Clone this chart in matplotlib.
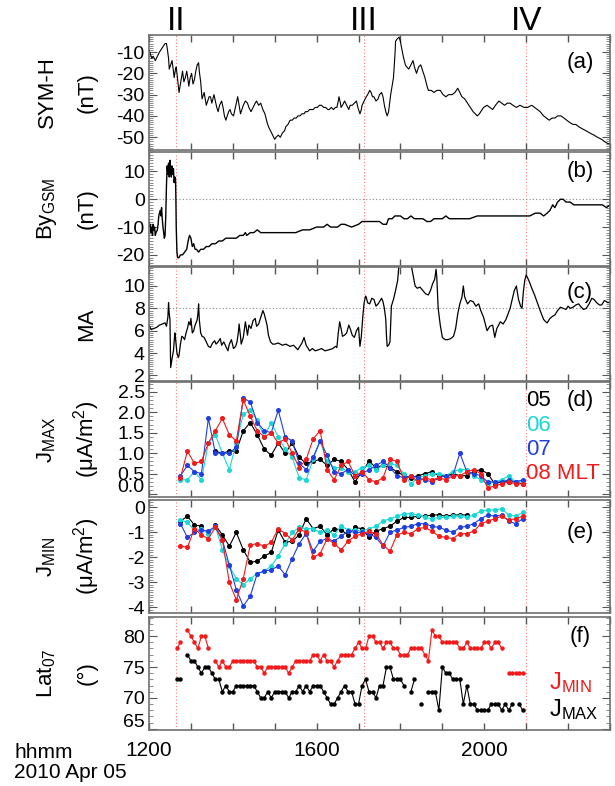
import numpy as np
import matplotlib
matplotlib.use("Agg")
import matplotlib.pyplot as plt
from matplotlib.ticker import MultipleLocator, FixedLocator, FixedFormatter
import matplotlib.transforms as mtransforms

plt.rcParams['font.family'] = ['Liberation Sans', 'DejaVu Sans']
plt.rcParams['mathtext.fontset'] = 'custom'
plt.rcParams['mathtext.rm'] = 'Liberation Sans'
plt.rcParams['mathtext.it'] = 'Liberation Sans'
plt.rcParams['axes.unicode_minus'] = False

nan = np.nan

# ---------------- data (time = minutes after 12:00 UT) ----------------
symh_pts = [(0, -9), (2, -11), (4, -13), (6, -12), (9, -14), (12, -12), (15, -10), (17, -9), (19, -8),
            (21, -7), (23, -6), (25, -6), (26, -8), (28, -13), (29, -18), (31, -16), (33, -14), (35, -19),
            (36, -22), (38, -18), (39, -17), (41, -23), (43, -29), (45, -25), (47, -21), (48, -19),
            (50, -24), (52, -22), (54, -19), (55, -21), (57, -26), (59, -22), (61, -20), (63, -25),
            (65, -23), (67, -19), (69, -16), (71, -15), (72, -19), (74, -24), (76, -32), (78, -30),
            (79, -29), (81, -33), (82, -35), (84, -33), (86, -31), (88, -31), (90, -34), (93, -30),
            (95, -33), (97, -36), (99, -38), (101, -35), (104, -33), (106, -36), (108, -40), (110, -42),
            (112, -40), (114, -38), (116, -37), (118, -39), (121, -40), (123, -37), (125, -34), (127, -31),
            (129, -35), (131, -39), (133, -37), (135, -35), (138, -33), (141, -34), (143, -36), (146, -38),
            (149, -36), (152, -34), (154, -33), (157, -35), (160, -34), (163, -37), (166, -39), (169, -43),
            (171, -45), (174, -47), (177, -49), (180, -51), (182, -50), (185, -49), (188, -50), (191, -48),
            (194, -47), (196, -45), (199, -44), (202, -42), (205, -42), (208, -41), (211, -41), (213, -40),
            (216, -40), (219, -39), (222, -39), (224, -38), (227, -38), (230, -37), (233, -37), (235, -37),
            (238, -36), (241, -36), (244, -35), (247, -35), (250, -36), (253, -36), (256, -37), (258, -37),
            (261, -36), (264, -37), (267, -36), (269, -36), (271, -33), (272, -31), (274, -34), (275, -36),
            (277, -35), (280, -33), (283, -35), (286, -37), (288, -35), (291, -35), (294, -34), (297, -33),
            (299, -36), (302, -39), (304, -37), (305, -35), (308, -33), (311, -31), (313, -30), (316, -28),
            (318, -29), (320, -31), (322, -31), (325, -33), (328, -32), (330, -30), (333, -29), (335, -31),
            (337, -35), (339, -38), (341, -40), (343, -38), (346, -30), (348, -26), (350, -22), (352, -12),
            (353, -5), (355, -4), (358, -3), (360, -5), (361, -7), (364, -12), (367, -16), (369, -17),
            (372, -18), (375, -16), (378, -14), (380, -17), (383, -20), (386, -17), (389, -16), (392, -19),
            (395, -22), (398, -26), (400, -28), (404, -28), (408, -29), (412, -28), (417, -28), (421, -30),
            (425, -31), (429, -30), (434, -30), (438, -29), (442, -27), (445, -29), (448, -31), (452, -32),
            (456, -34), (460, -36), (464, -38), (467, -39), (470, -40), (473, -39), (475, -38), (479, -36),
            (484, -35), (488, -36), (492, -37), (496, -35), (501, -33), (505, -34), (509, -35), (513, -34),
            (517, -34), (521, -35), (526, -36), (531, -35), (537, -36), (542, -36), (548, -35), (552, -36),
            (556, -37), (560, -38), (565, -40), (569, -41), (573, -42), (577, -41), (581, -41), (585, -40),
            (590, -40), (594, -41), (598, -42), (602, -43), (607, -44), (611, -44), (615, -45), (620, -46),
            (626, -47), (631, -48), (637, -49), (642, -50), (648, -51), (652, -52), (657, -53), (660, -53)]

by_pts = [(0, -8), (1, -10), (2, -9), (3, -12), (4, -10), (5, -13), (6, -9), (7, -11), (8, -10), (9, -13),
          (10, -12), (12, -11), (13, -9), (14, -6), (15, -5), (16, -4), (17, -6), (18, -3), (19, -7),
          (20, -10), (21, -12), (22, -14), (23, -13), (24, -6), (25, 5), (26, 12), (27, 9), (28, 13),
          (29, 8), (30, 14), (31, 10), (32, 8), (33, 12), (34, 9), (35, 11), (36, 6), (37, 8), (38, 7),
          (38.5, 0), (39, -10), (40, -19), (41, -21), (43, -21), (45, -20), (48, -20), (51, -19), (54, -18),
          (56, -15), (58, -13), (60, -14), (62, -17), (64, -16), (66, -18), (68, -18), (71, -19), (74, -18),
          (78, -18), (82, -17), (86, -17), (90, -16), (95, -16), (100, -15), (105, -15), (110, -14),
          (115, -14), (120, -14), (125, -14), (130, -13), (135, -13), (138, -12), (140, -13), (145, -12),
          (150, -12), (155, -11), (160, -12), (165, -12), (170, -12), (180, -12), (190, -12), (200, -12),
          (210, -12), (220, -11), (230, -11), (240, -10), (250, -10), (255, -9), (260, -10), (270, -10),
          (275, -9), (280, -9), (290, -10), (300, -9), (305, -8), (310, -8), (320, -8), (330, -8),
          (335, -9), (340, -9), (343, -7), (348, -7), (352, -6), (356, -6), (360, -6), (365, -7), (370, -7),
          (375, -6), (380, -7), (386, -7), (392, -7), (398, -8), (403, -8), (408, -7), (414, -7), (420, -7),
          (425, -6), (430, -7), (436, -7), (442, -7), (450, -7), (459, -7), (470, -6), (481, -6), (492, -6),
          (503, -6), (515, -6), (526, -6), (536, -6), (545, -6), (553, -5), (560, -5), (565, -6), (570, -5),
          (574, -4), (578, -2), (581, -3), (585, -1), (589, 0), (593, 0), (597, -1), (603, -1), (608, -2),
          (614, -2), (620, -2), (626, -2), (632, -2), (637, -2), (643, -2), (649, -2), (655, -3), (660, -2)]

ma_pts = [(0, 6.5), (3, 6.1), (7, 6.2), (11, 6.3), (15, 6.5), (19, 6.6), (23, 6.7), (25, 6.4), (27, 7.2),
          (28, 8.5), (29, 7.5), (30, 7.0), (31, 2.7), (33, 3.5), (35, 4.2), (36, 5.0), (37, 5.8), (38, 5.3),
          (40, 4.0), (42, 3.6), (43, 3.8), (45, 4.8), (47, 5.5), (49, 5.4), (51, 5.2), (53, 5.8), (55, 6.2),
          (57, 6.8), (59, 6.5), (60, 7.1), (62, 5.8), (64, 6.0), (66, 6.5), (68, 6.8), (69, 7.0), (70, 7.5),
          (71, 8.4), (72, 7.0), (74, 5.8), (76, 5.5), (79, 5.4), (82, 5.0), (85, 4.6), (88, 4.5), (91, 4.9),
          (94, 5.1), (96, 4.8), (99, 5.0), (102, 5.3), (104, 4.7), (107, 5.0), (110, 4.6), (113, 4.2),
          (115, 4.8), (118, 5.2), (121, 4.4), (124, 4.6), (126, 5.0), (128, 5.9), (129, 6.6), (131, 5.5),
          (132, 4.8), (135, 5.4), (138, 6.8), (141, 5.6), (143, 6.5), (146, 6.2), (149, 6.9), (152, 7.1),
          (154, 6.4), (157, 6.6), (160, 7.2), (163, 7.8), (165, 7.5), (167, 7.0), (169, 6.5), (171, 5.6),
          (174, 5.0), (177, 4.8), (180, 4.8), (185, 4.9), (191, 4.7), (196, 4.8), (202, 4.6), (207, 4.7),
          (213, 4.3), (216, 4.6), (219, 4.9), (222, 5.4), (225, 4.7), (228, 4.4), (230, 4.2), (234, 4.4),
          (238, 4.2), (243, 4.3), (247, 4.4), (252, 4.2), (258, 4.3), (263, 4.4), (267, 4.6), (269, 4.5),
          (271, 5.8), (273, 6.8), (275, 6.2), (277, 5.5), (280, 5.6), (283, 5.8), (286, 6.5), (288, 6.2),
          (291, 5.6), (294, 5.4), (297, 6.0), (300, 6.3), (302, 4.6), (304, 5.5), (306, 7.2), (308, 8.5),
          (310, 9.1), (311, 9.0), (313, 8.5), (316, 8.4), (319, 8.9), (322, 8.8), (325, 8.2), (328, 8.4),
          (331, 8.7), (333, 8.9), (335, 8.6), (337, 8.0), (339, 7.0), (340, 5.5), (341, 4.6), (343, 4.7),
          (345, 5.0), (346, 6.5), (347, 8.2), (350, 8.8), (353, 9.6), (356, 10.5), (358, 12.0), (375, 12.0),
          (378, 11.0), (381, 10.0), (384, 9.8), (388, 9.9), (392, 9.6), (396, 9.3), (400, 9.2), (403, 9.6),
          (406, 10.2), (409, 10.6), (411, 11.5), (412, 10.8), (414, 8.0), (417, 6.5), (420, 5.4), (424, 5.2),
          (428, 5.2), (432, 5.3), (436, 5.5), (439, 6.2), (442, 7.5), (445, 8.4), (448, 9.0), (450, 10.0),
          (452, 9.0), (456, 8.4), (460, 8.7), (464, 8.6), (468, 8.2), (472, 8.4), (475, 7.8), (479, 7.2),
          (482, 6.5), (484, 6.0), (488, 6.4), (492, 6.5), (495, 5.4), (498, 6.2), (503, 6.8), (507, 6.6),
          (511, 7.0), (514, 7.5), (517, 8.0), (520, 8.8), (523, 9.6), (526, 10.0), (529, 8.8), (532, 8.2),
          (534, 8.0), (536, 9.5), (538, 10.5), (540, 11.0), (543, 10.6), (545, 10.3), (548, 9.8),
          (552, 9.2), (556, 8.5), (560, 7.8), (565, 7.0), (568, 6.8), (570, 6.7), (574, 7.1), (578, 7.3),
          (581, 7.4), (585, 7.8), (589, 8.1), (593, 8.0), (597, 7.9), (600, 8.2), (603, 8.0), (607, 8.1),
          (611, 8.3), (615, 8.4), (619, 8.1), (622, 7.9), (626, 8.0), (630, 8.4), (634, 8.9), (637, 8.8),
          (641, 8.5), (645, 8.3), (648, 8.3), (652, 8.7), (655, 8.6), (657, 8.5), (660, 8.6)]

# AMPERE current densities, sampled every 10 min from 12:45 to 20:55
j_min = list(range(45, 536, 10))
jmax_05 = [nan, nan, nan, nan, nan, 1.05, 1.00, 1.05, 1.05, 1.55, 1.75, 1.45, 1.10, 0.95, 1.25, 1.00, 1.25,
           0.90, 0.75, 0.80, 0.85, 0.70, 0.85, 0.80, 0.60, 0.30, 0.55, 0.80, 0.65, 0.70, 0.65, 0.55, 0.45,
           0.40, 0.45, 0.50, 0.55, 0.45, 0.45, 0.50, 0.45, 0.45, 0.55, 0.60, 0.50, 0.25, 0.30, 0.30, 0.30,
           0.25]
jmax_06 = [0.35, 0.35, 0.55, 0.35, 1.25, 1.45, 1.00, 0.60, 1.25, 1.95, 2.05, 1.80, 1.40, 1.75, 1.40, 1.10,
           0.90, 0.40, 0.35, 0.85, 1.30, 0.80, 0.65, 0.65, 0.55, 0.55, 0.65, 0.70, 0.60, 0.70, 0.75, 0.70,
           0.50, 0.25, 0.40, 0.45, 0.50, 0.50, 0.45, 0.55, 0.60, 0.60, 0.45, 0.35, 0.25, 0.30, 0.35, 0.45,
           0.30, 0.30]
jmax_07 = [0.45, 0.70, 0.55, 0.50, 1.85, 1.00, 1.00, 1.00, 1.15, 2.35, 2.25, 1.75, 1.55, 1.50, 2.05, 1.40,
           1.30, 0.75, 0.60, 0.90, 1.30, 0.95, 0.55, 0.50, 0.60, 0.45, 0.50, 0.60, 0.70, 0.80, 0.65, 0.45,
           0.40, 0.45, 0.40, 0.35, 0.30, 0.40, 0.45, 0.45, 1.00, 0.55, 0.50, 0.45, 0.30, 0.30, 0.30, 0.35,
           0.30, 0.35]
jmax_08 = [0.40, 1.05, 0.75, 0.80, 1.25, 1.55, 1.85, 1.45, 1.30, 2.30, 1.90, 1.55, 1.40, 1.50, 1.25, 1.35,
           1.00, 0.65, 0.85, 1.35, 1.55, 0.60, 0.35, 0.70, 0.80, 0.45, 0.55, 0.35, 0.30, 0.40, 0.85, 0.80,
           0.35, 0.45, 0.30, 0.40, 0.35, 0.40, 0.35, 0.45, 0.45, 0.55, 0.60, 0.50, 0.15, 0.20, 0.25, 0.30,
           0.25, 0.25]

jmin_05 = [-0.55, -0.35, -0.70, -0.75, nan, -0.70, -1.10, -1.55, -1.00, -1.70, -2.20, -2.15, -1.95, -1.80,
           -0.90, -1.40, -1.35, -1.10, -0.45, -0.85, -0.75, -1.10, -0.85, -0.90, -1.10, -0.80, -0.85, -1.20,
           -0.95, -0.85, -0.75, -0.55, -0.40, -0.40, -0.35, -0.35, -0.30, -0.30, -0.35, -0.30, -0.30, -0.30,
           nan, nan, nan, nan, nan, nan, nan, nan]
jmin_06 = [-0.50, -0.60, -0.90, -0.85, -1.05, -0.75, -1.70, -2.35, -2.85, -3.10, -2.85, -2.65, -2.55, -2.35,
           -1.95, -1.45, -1.00, -0.80, -0.85, -0.85, -1.00, -0.90, -1.10, -0.75, -0.90, -0.90, -0.95, -0.85,
           -0.75, -0.55, -0.45, -0.35, -0.25, -0.25, -0.30, -0.40, -0.45, -0.40, -0.40, -0.35, -0.35, -0.40,
           -0.30, -0.15, -0.10, -0.10, -0.05, -0.30, -0.35, -0.20]
jmin_07 = [-0.65, -1.20, -1.00, -0.90, -0.95, -0.75, -1.30, -2.30, -3.30, -3.95, -3.55, -2.65, -2.55, -2.50,
           -2.35, -2.70, -2.05, -1.45, -1.05, -1.75, -1.35, -1.25, -1.35, -1.15, -0.95, -1.00, -1.00, -1.05,
           -1.20, -1.55, -1.00, -0.90, -0.80, -0.75, -0.65, -0.65, -0.75, -0.80, -0.90, -1.00, -0.80, -0.75,
           -0.65, -0.45, -0.30, -0.35, -0.30, -0.55, -0.65, -0.45]
jmin_08 = [-1.55, -1.60, -0.85, -1.10, -1.25, -0.80, -1.30, -3.00, -3.70, -2.85, -1.50, -1.45, -1.55, -1.40,
           -0.85, -1.05, -1.30, -0.85, -1.00, -2.00, -1.85, -1.25, -1.45, -1.70, -1.35, -1.15, -1.05, -0.95,
           -1.05, -1.50, -1.75, -1.10, -1.00, -1.05, -0.85, -0.80, -0.95, -1.15, -1.20, -1.25, -1.05, -1.05,
           -0.95, -0.65, -0.55, -0.45, -0.35, -0.50, -0.45, -0.35]

# latitude of J_MIN / J_MAX at 07 MLT, every 5 min from 12:40 to 20:55
lat_min = list(range(40, 536, 5))
lat_jmin = [78, 79, nan, 81, 80, 79, 78, 80, 80, 78, nan, 76, 75, 76, 75, 75, 76, 76, 76, 76, 76, 76, 76, 75,
            75, 74, 75, 75, 75, 75, 75, 75, 74, 75, 76, 76, 76, 76, 76, 77, 77, 76, 77, 76, 76, 75, 76, 77,
            77, 77, 77, 78, 79, 78, 78, 80, 80, 79, 79, 78, 79, 79, 78, 78, 77, 77, 77, 78, 78, 78, 78, 77,
            76, 81, 80, 80, 79, 79, 79, 79, 79, 78, 78, 79, 78, 78, 78, 78, 79, 79, 78, 79, 79, 78, nan, 74,
            74, 74, 74, 74]
lat_jmax = [73, 73, nan, 77, 76, 76, 75, 74, 75, 75, 74, 73, 73, 71, 72, 71, 71, 72, 72, 72, 72, 72, 72, 71,
            70, 70, 71, 70, 71, 71, 71, 71, 70, 71, 71, 72, 71, 72, 71, 72, 72, 72, 71, 70, 69, 69, 70, 71,
            72, 71, 71, 69, 69, 72, 73, 71, 71, 70, 72, 72, 75, 75, 73, 73, 73, 72, nan, 71, 73, nan, 69, nan,
            71, 71, 71, 68, 75, 74, 74, 73, 73, 73, 69, 72, 69, 69, 68, 68, 68, 68, 69, 69, 69, 68, 69, 68,
            69, nan, 69, 68]

event_min = [39, 308, 540]
event_lbl = ['II', 'III', 'IV']

xtick_min = list(range(0, 661, 60))
xtick_lbl = ['1200', '', '', '', '1600', '', '', '', '2000', '', '', '']

symh_min, symh_nT = zip(*symh_pts)
by_min, by_nT = zip(*by_pts)
ma_min, ma_val = zip(*ma_pts)

# ---------------- figure ----------------
W_PX, H_PX = 615, 786
fig = plt.figure(figsize=(W_PX / 100, H_PX / 100), dpi=100)

L = 149 / W_PX
WID = (610 - 149) / W_PX
def pos(top, bot):
    return [L, 1 - bot / H_PX, WID, (bot - top) / H_PX]

panels = {
    'a': pos(35, 150), 'b': pos(152, 266), 'c': pos(267, 381),
    'd': pos(382, 497), 'e': pos(500, 613), 'f': pos(617, 730),
}
axs = {k: fig.add_axes(v) for k, v in panels.items()}

FS = 14
edge = '#707070'
for k, ax in axs.items():
    ax.set_xlim(0, 660)
    for s in ax.spines.values():
        s.set_color(edge)
        s.set_linewidth(1.2)
    ax.xaxis.set_major_locator(FixedLocator(xtick_min))
    ax.tick_params(axis='x', which='major', direction='in', top=True, bottom=True,
                   length=5, width=1, color='#555555', labelsize=15, pad=8)
    ax.tick_params(axis='y', which='major', direction='in', left=True, right=True,
                   length=6, width=0.8, color='#555555', labelsize=FS, pad=3)
    ax.tick_params(axis='y', which='minor', direction='in', left=True, right=True,
                   length=3, width=0.6, color='#777777')
    if k == 'f':
        ax.set_xticklabels(xtick_lbl)
    else:
        ax.set_xticklabels([])
    for t in event_min:
        ax.axvline(t, color='#ff7a7a', ls=(0, (1, 2)), lw=0.8, zorder=0)

def shifted_label(ax, yval, txt, dy_pt):
    ax.annotate(txt, xy=(0, yval), xycoords=('axes fraction', 'data'),
                xytext=(-3, dy_pt), textcoords='offset points',
                ha='right', va='center', fontsize=FS)

# (a) SYM-H
ax = axs['a']
ax.plot(symh_min, symh_nT, color='black', lw=0.8)
ax.set_ylim(-56, -2)
ax.yaxis.set_major_locator(FixedLocator([-50, -40, -30, -20, -10]))
ax.yaxis.set_minor_locator(MultipleLocator(1))

# (b) By GSM
ax = axs['b']
ax.axhline(0, color='#888888', ls=(0, (1, 2)), lw=0.8, zorder=0)
ax.plot(by_min, by_nT, color='black', lw=1.0)
ax.set_ylim(-24, 17)
ax.yaxis.set_major_locator(FixedLocator([-20, -10, 0, 10]))
ax.yaxis.set_minor_locator(MultipleLocator(1))

# (c) MA
ax = axs['c']
ax.axhline(8, color='#888888', ls=(0, (1, 2)), lw=0.8, zorder=0)
ax.plot(ma_min, ma_val, color='black', lw=0.9)
ax.set_ylim(1.5, 11.7)
ax.yaxis.set_major_locator(FixedLocator([2, 4, 6, 8, 10]))
ax.yaxis.set_minor_locator(MultipleLocator(0.2))

cols = {'05': 'black', '06': '#19d7d7', '07': '#1f3fe0', '08': '#f21a1a'}
mk = dict(marker='o', ms=2.6, lw=0.8)

# (d) J_MAX
ax = axs['d']
for key, vals in [('05', jmax_05), ('06', jmax_06), ('07', jmax_07), ('08', jmax_08)]:
    ax.plot(j_min, vals, color=cols[key], mec=cols[key], mfc=cols[key], **mk)
ax.set_ylim(-0.07, 2.74)
ax.yaxis.set_major_locator(FixedLocator([0, 0.5, 1.0, 1.5, 2.0, 2.5]))
ax.yaxis.set_major_formatter(FixedFormatter(['', '0.5', '1.0', '1.5', '2.0', '2.5']))
ax.yaxis.set_minor_locator(MultipleLocator(0.1))
shifted_label(ax, 0.0, '0.0', 4.5)
leg_x = 540 / 660
for i, (txt, key) in enumerate([('05', '05'), ('06', '06'), ('07', '07'), ('08 MLT', '08')]):
    ax.text(leg_x, 0.835 - i * 0.209, txt, color=cols[key], transform=ax.transAxes,
            fontsize=16, ha='left', va='center')

# (e) J_MIN
ax = axs['e']
for key, vals in [('05', jmin_05), ('06', jmin_06), ('07', jmin_07), ('08', jmin_08)]:
    ax.plot(j_min, vals, color=cols[key], mec=cols[key], mfc=cols[key], **mk)
ax.set_ylim(-4.23, 0.3)
ax.yaxis.set_major_locator(FixedLocator([-4, -3, -2, -1, 0]))
ax.yaxis.set_minor_locator(MultipleLocator(0.1))

# (f) latitude
ax = axs['f']
ax.plot(lat_min, lat_jmin, color='#f21a1a', marker='o', ms=2.2, lw=0.8)
ax.plot(lat_min, lat_jmax, color='black', marker='o', ms=2.2, lw=0.8)
ax.set_ylim(64.8, 83.1)
ax.yaxis.set_major_locator(FixedLocator([65, 70, 75, 80]))
ax.yaxis.set_major_formatter(FixedFormatter(['', '70', '75', '80']))
ax.yaxis.set_minor_locator(MultipleLocator(1))
shifted_label(ax, 65, '65', 4.5)
ax.text(0.868, 0.42, r'J$_{\mathregular{MIN}}$', color='#f21a1a', transform=ax.transAxes,
        fontsize=17, ha='left', va='center')
ax.text(0.868, 0.18, r'J$_{\mathregular{MAX}}$', color='black', transform=ax.transAxes,
        fontsize=17, ha='left', va='center')

# panel letters
letter_y = {'a': 0.76, 'b': 0.83, 'c': 0.78, 'd': 0.835, 'e': 0.71, 'f': 0.83}
for k, ax in axs.items():
    ax.text(0.935, letter_y[k], f'({k})', transform=ax.transAxes, fontsize=16,
            ha='center', va='center')

# event numerals
ax = axs['a']
trans = mtransforms.blended_transform_factory(ax.transData, ax.transAxes)
for t, lbl in zip(event_min, event_lbl):
    ax.text(t, 1.04, lbl, transform=trans, fontsize=24, ha='center', va='baseline')

# y labels (two lines, placed in figure pixels)
def fy(top, bot):
    return 1 - (top + bot) / 2 / H_PX
x1, x2 = 47 / W_PX, 87 / W_PX
YFS = 16
fig.text(x1, fy(35, 150), 'SYM-H', rotation=90, ha='center', va='center', fontsize=YFS)
fig.text(x2, fy(35, 150), '(nT)', rotation=90, ha='center', va='center', fontsize=YFS)
fig.text(x1, fy(152, 266), r'By$_{\mathregular{GSM}}$', rotation=90, ha='center', va='center', fontsize=YFS)
fig.text(x2, fy(152, 266), '(nT)', rotation=90, ha='center', va='center', fontsize=YFS)
fig.text(x2, fy(267, 381), 'MA', rotation=90, ha='center', va='center', fontsize=YFS)
fig.text(x1, fy(382, 497), r'J$_{\mathregular{MAX}}$', rotation=90, ha='center', va='center', fontsize=YFS)
fig.text(x2, fy(382, 497), r'(μA/m$^{\mathregular{2}}$)', rotation=90, ha='center', va='center', fontsize=YFS)
fig.text(x1, fy(500, 613), r'J$_{\mathregular{MIN}}$', rotation=90, ha='center', va='center', fontsize=YFS)
fig.text(x2, fy(500, 613), r'(μA/m$^{\mathregular{2}}$)', rotation=90, ha='center', va='center', fontsize=YFS)
fig.text(x1, fy(617, 730), r'Lat$_{\mathregular{07}}$', rotation=90, ha='center', va='center', fontsize=YFS)
fig.text(x2, fy(617, 730), '(°)', rotation=90, ha='center', va='center', fontsize=YFS)

fig.text(14 / W_PX, 1 - 752 / H_PX, 'hhmm', ha='left', va='center', fontsize=15)
fig.text(14 / W_PX, 1 - 772 / H_PX, '2010 Apr 05', ha='left', va='center', fontsize=15)

fig.savefig('out.png', dpi=100)
